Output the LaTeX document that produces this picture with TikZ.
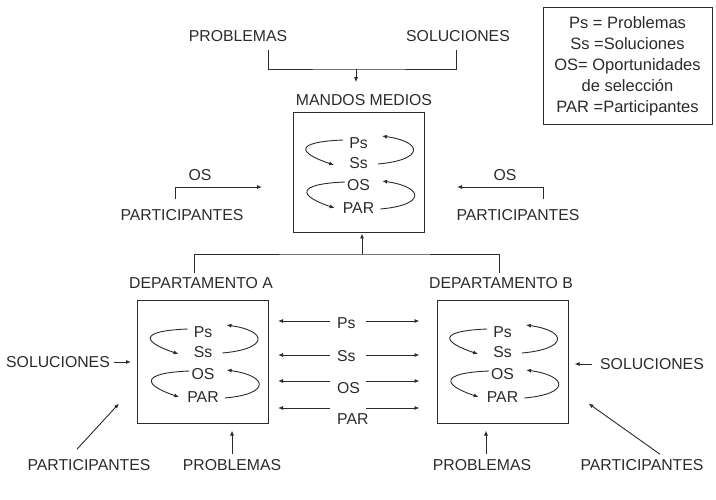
\documentclass[tikz,border=0pt]{standalone}
\usepackage{fontspec}
\setmainfont{Liberation Sans}
\usetikzlibrary{arrows.meta,positioning,calc}
\definecolor{ink}{rgb}{0.17,0.17,0.17}

\tikzset{
  lbl/.style={inner sep=0pt, text=ink, font=\fontsize{15.8}{18}\selectfont},
  box/.style={draw=ink, line width=1pt, minimum width=131pt, minimum height=122pt},
  con/.style={draw=ink, line width=0.9pt},
  >={Latex[length=5pt,width=4pt]}
}

\begin{document}
\begin{tikzpicture}[x=1pt,y=-1pt]
            \useasboundingbox (0,0) rectangle (716,500);

            % top: problems and solutions into middle management
            \node[lbl] (probTop) at (238,36) {PROBLEMAS};
            \node[lbl] (solTop) at (458,36) {SOLUCIONES};
            \coordinate (join) at (356,69);
            \draw[con] ([xshift=30pt,yshift=-8pt]probTop.south) |- (join) -| ([xshift=-2pt,yshift=-8pt]solTop.south);
            \node[lbl] (mandosLbl) at (364,100) {MANDOS MEDIOS};
            \draw[con,->] (join) -- ([yshift=12pt]join |- mandosLbl.north);
            \node[box, minimum height=120pt] (mandos) at (358.5,173) {};

            % side inputs
            \node[lbl] (partL) at (182,215) {PARTICIPANTES};
            \node[lbl] (osL) at (200,175) {OS};
            \coordinate (osLtip) at (262,187);
            \draw[con,->] ([xshift=-7pt,yshift=10pt]partL.north) |- (osLtip);
            \node[lbl] (partR) at (518,215) {PARTICIPANTES};
            \node[lbl] (osR) at (505,175) {OS};
            \coordinate (osRtip) at (457,187);
            \draw[con,->] ([xshift=25pt,yshift=10pt]partR.north) |- (osRtip);

            % departments
            \node[lbl] (depA) at (201,283) {DEPARTAMENTO A};
            \node[lbl] (depB) at (501,283) {DEPARTAMENTO B};
            \coordinate (hub) at (362,254);
            \draw[con,->] (hub) -- (hub |- mandos.south);
            \draw[con] ([xshift=-7pt,yshift=4pt]depA.north) |- (hub) -| ([xshift=-2pt,yshift=4pt]depB.north);
            \node[box] (boxA) at (203,362) {};
            \node[box] (boxB) at (502.5,362) {};

            % streams inside each box
            \foreach \n/\cx/\cy in {m/358.5/173, a/203/362, b/502.5/362}{
              \node[lbl] (\n-ps) at (\cx,\cy-30) {Ps};
              \node[lbl] (\n-ss) at (\cx,\cy-10) {Ss};
              \node[lbl] (\n-os) at (\cx,\cy+12) {OS};
              \node[lbl] (\n-par) at (\cx,\cy+35) {PAR};
              \draw[con,->] ([xshift=-6pt,yshift=3pt]\n-ps.west) .. controls +(-50,2) and +(-36,-12) .. ([xshift=-15pt,yshift=-2pt]\n-ss.west);
              \draw[con,->] ([xshift=10pt,yshift=-1pt]\n-ss.east) .. controls +(46,-4) and +(42,6) .. ([xshift=14pt,yshift=7pt]\n-ps.east);
              \draw[con,->] ([xshift=-2pt,yshift=3pt]\n-os.west) .. controls +(-50,2) and +(-36,-12) .. ([xshift=-8pt]\n-par.west);
              \draw[con,->] ([xshift=6pt,yshift=-1pt]\n-par.east) .. controls +(46,-4) and +(42,6) .. ([xshift=12pt,yshift=4pt]\n-os.east);
            }

            % exchange between the departments
            \foreach \t/\ly/\ay in {Ps/323/321, Ss/356/355, OS/388/381, PAR/419/408}{
              \node[lbl,anchor=west] (mid\t) at (337,\ly) {\t};
              \draw[con,<-] ([xshift=9pt]boxA.east |- 0,\ay) -- ([xshift=-7pt]mid\t.west |- 0,\ay);
              \draw[con,->] ([xshift=29pt]mid\t.west |- 0,\ay) -- ([xshift=-17pt]boxB.west |- 0,\ay);
            }

            % outer inputs of the departments
            \node[lbl] (solA) at (58,362) {SOLUCIONES};
            \draw[con,->] ([xshift=4pt]solA.east) -- ([xshift=-6pt]boxA.west);
            \node[lbl] (solB) at (652,364) {SOLUCIONES};
            \draw[con,->] ([xshift=-8pt]solB.west) -- ([xshift=6pt]boxB.east |- solB);
            \node[lbl] (partA) at (89,465) {PARTICIPANTES};
            \draw[con,->] ([xshift=-12pt,yshift=10pt]partA.north) -- ([xshift=-18pt,yshift=20pt]boxA.south west);
            \node[lbl] (probA) at (232,465) {PROBLEMAS};
            \draw[con,->] ([yshift=5pt]probA.north) -- ([yshift=-7pt]probA.north |- boxA.south);
            \node[lbl] (probB) at (482,465) {PROBLEMAS};
            \draw[con,->] ([xshift=4pt,yshift=5pt]probB.north) -- ([xshift=4pt,yshift=-7pt]probB.north |- boxB.south);
            \node[lbl] (partB) at (642,465) {PARTICIPANTES};
            \draw[con,->] ([xshift=18pt,yshift=5pt]partB.north) -- ([xshift=20pt,yshift=20pt]boxB.south east);

            % legend
            \node[draw=ink, line width=1pt, minimum width=169pt, minimum height=117pt, align=center, text=ink, font=\fontsize{16.5}{21}\selectfont] (legend) at (627.5,66.5) {Ps = Problemas\\Ss =Soluciones\\OS= Oportunidades\\de selección\\PAR =Participantes};

\end{tikzpicture}
\end{document}
